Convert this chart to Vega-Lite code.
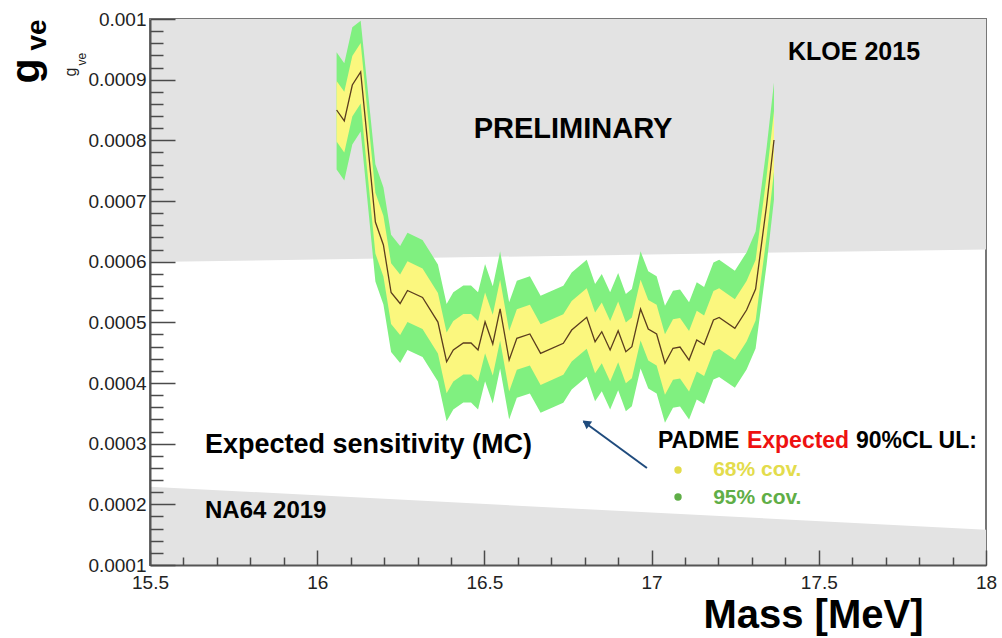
{
  "$schema": "https://vega.github.io/schema/vega-lite/v6.json",
  "width": 836,
  "height": 546,
  "autosize": {"type": "none"},
  "padding": {"left": 150, "top": 19, "right": 16, "bottom": 73},
  "background": "white",
  "view": {"stroke": "#777777", "strokeWidth": 2},
  "config": {
    "font": "Liberation Sans",
    "axis": {
      "zindex": 1,
      "grid": false,
      "labelFont": "Liberation Sans",
      "labelFontSize": 19,
      "labelColor": "#222222",
      "labelFlush": false,
      "labelOverlap": false,
      "tickColor": "#4a4a4a",
      "tickWidth": 1.5,
      "domainColor": "#555555",
      "domainWidth": 2,
      "titleFont": "Liberation Sans",
      "titleColor": "#000000",
      "titleFontWeight": "bold"
    }
  },
  "resolve": {"axis": {"x": "independent", "y": "independent"}},
  "datasets": {
    "kloe": [
      {"m": 15.5, "lo": 0.0005995, "hi": 0.001},
      {"m": 18.0, "lo": 0.00062, "hi": 0.001}
    ],
    "na64": [
      {"m": 15.5, "lo": 0.0001, "hi": 0.000229},
      {"m": 18.0, "lo": 0.0001, "hi": 0.000158}
    ],
    "limit": [
      {"m": 16.058, "c": 0.0008500, "lo68": 0.0007980, "hi68": 0.0008980, "lo95": 0.0007520, "hi95": 0.0009450},
      {"m": 16.081, "c": 0.0008319, "lo68": 0.0007799, "hi68": 0.0008799, "lo95": 0.0007339, "hi95": 0.0009269},
      {"m": 16.105, "c": 0.0008912, "lo68": 0.0008392, "hi68": 0.0009392, "lo95": 0.0007932, "hi95": 0.0009862},
      {"m": 16.130, "c": 0.0009126, "lo68": 0.0008606, "hi68": 0.0009606, "lo95": 0.0008146, "hi95": 0.0009970},
      {"m": 16.174, "c": 0.0006654, "lo68": 0.0006134, "hi68": 0.0007134, "lo95": 0.0005674, "hi95": 0.0007604},
      {"m": 16.198, "c": 0.0006275, "lo68": 0.0005755, "hi68": 0.0006755, "lo95": 0.0005295, "hi95": 0.0007225},
      {"m": 16.221, "c": 0.0005492, "lo68": 0.0004972, "hi68": 0.0005972, "lo95": 0.0004512, "hi95": 0.0006442},
      {"m": 16.248, "c": 0.0005310, "lo68": 0.0004790, "hi68": 0.0005790, "lo95": 0.0004330, "hi95": 0.0006260},
      {"m": 16.270, "c": 0.0005525, "lo68": 0.0005005, "hi68": 0.0006005, "lo95": 0.0004545, "hi95": 0.0006475},
      {"m": 16.315, "c": 0.0005409, "lo68": 0.0004889, "hi68": 0.0005889, "lo95": 0.0004429, "hi95": 0.0006359},
      {"m": 16.361, "c": 0.0005005, "lo68": 0.0004485, "hi68": 0.0005485, "lo95": 0.0004025, "hi95": 0.0005955},
      {"m": 16.387, "c": 0.0004351, "lo68": 0.0003831, "hi68": 0.0004831, "lo95": 0.0003371, "hi95": 0.0005301},
      {"m": 16.407, "c": 0.0004544, "lo68": 0.0004024, "hi68": 0.0005024, "lo95": 0.0003564, "hi95": 0.0005494},
      {"m": 16.437, "c": 0.0004659, "lo68": 0.0004139, "hi68": 0.0005139, "lo95": 0.0003679, "hi95": 0.0005609},
      {"m": 16.460, "c": 0.0004659, "lo68": 0.0004139, "hi68": 0.0005139, "lo95": 0.0003679, "hi95": 0.0005609},
      {"m": 16.481, "c": 0.0004544, "lo68": 0.0004024, "hi68": 0.0005024, "lo95": 0.0003564, "hi95": 0.0005494},
      {"m": 16.502, "c": 0.0005010, "lo68": 0.0004490, "hi68": 0.0005490, "lo95": 0.0004030, "hi95": 0.0005960},
      {"m": 16.525, "c": 0.0004643, "lo68": 0.0004123, "hi68": 0.0005123, "lo95": 0.0003663, "hi95": 0.0005593},
      {"m": 16.547, "c": 0.0005220, "lo68": 0.0004700, "hi68": 0.0005700, "lo95": 0.0004240, "hi95": 0.0006170},
      {"m": 16.574, "c": 0.0004379, "lo68": 0.0003859, "hi68": 0.0004859, "lo95": 0.0003399, "hi95": 0.0005329},
      {"m": 16.597, "c": 0.0004737, "lo68": 0.0004217, "hi68": 0.0005217, "lo95": 0.0003757, "hi95": 0.0005687},
      {"m": 16.636, "c": 0.0004808, "lo68": 0.0004288, "hi68": 0.0005288, "lo95": 0.0003828, "hi95": 0.0005758},
      {"m": 16.668, "c": 0.0004489, "lo68": 0.0003969, "hi68": 0.0004969, "lo95": 0.0003509, "hi95": 0.0005439},
      {"m": 16.736, "c": 0.0004654, "lo68": 0.0004134, "hi68": 0.0005134, "lo95": 0.0003674, "hi95": 0.0005604},
      {"m": 16.761, "c": 0.0004873, "lo68": 0.0004353, "hi68": 0.0005353, "lo95": 0.0003893, "hi95": 0.0005823},
      {"m": 16.806, "c": 0.0005083, "lo68": 0.0004563, "hi68": 0.0005563, "lo95": 0.0004103, "hi95": 0.0006033},
      {"m": 16.831, "c": 0.0004681, "lo68": 0.0004161, "hi68": 0.0005161, "lo95": 0.0003701, "hi95": 0.0005631},
      {"m": 16.851, "c": 0.0004845, "lo68": 0.0004325, "hi68": 0.0005325, "lo95": 0.0003865, "hi95": 0.0005795},
      {"m": 16.876, "c": 0.0004544, "lo68": 0.0004024, "hi68": 0.0005024, "lo95": 0.0003564, "hi95": 0.0005494},
      {"m": 16.900, "c": 0.0004862, "lo68": 0.0004342, "hi68": 0.0005342, "lo95": 0.0003882, "hi95": 0.0005812},
      {"m": 16.923, "c": 0.0004516, "lo68": 0.0003996, "hi68": 0.0004996, "lo95": 0.0003536, "hi95": 0.0005466},
      {"m": 16.941, "c": 0.0004598, "lo68": 0.0004078, "hi68": 0.0005078, "lo95": 0.0003618, "hi95": 0.0005548},
      {"m": 16.967, "c": 0.0005220, "lo68": 0.0004700, "hi68": 0.0005700, "lo95": 0.0004240, "hi95": 0.0006170},
      {"m": 16.990, "c": 0.0004890, "lo68": 0.0004370, "hi68": 0.0005370, "lo95": 0.0003910, "hi95": 0.0005840},
      {"m": 17.015, "c": 0.0004808, "lo68": 0.0004288, "hi68": 0.0005288, "lo95": 0.0003828, "hi95": 0.0005758},
      {"m": 17.040, "c": 0.0004325, "lo68": 0.0003805, "hi68": 0.0004805, "lo95": 0.0003345, "hi95": 0.0005275},
      {"m": 17.064, "c": 0.0004572, "lo68": 0.0004052, "hi68": 0.0005052, "lo95": 0.0003592, "hi95": 0.0005522},
      {"m": 17.085, "c": 0.0004593, "lo68": 0.0004073, "hi68": 0.0005073, "lo95": 0.0003613, "hi95": 0.0005543},
      {"m": 17.112, "c": 0.0004379, "lo68": 0.0003859, "hi68": 0.0004859, "lo95": 0.0003399, "hi95": 0.0005329},
      {"m": 17.135, "c": 0.0004709, "lo68": 0.0004189, "hi68": 0.0005189, "lo95": 0.0003729, "hi95": 0.0005659},
      {"m": 17.157, "c": 0.0004634, "lo68": 0.0004114, "hi68": 0.0005114, "lo95": 0.0003654, "hi95": 0.0005584},
      {"m": 17.185, "c": 0.0005038, "lo68": 0.0004518, "hi68": 0.0005518, "lo95": 0.0004058, "hi95": 0.0005988},
      {"m": 17.202, "c": 0.0005080, "lo68": 0.0004560, "hi68": 0.0005560, "lo95": 0.0004100, "hi95": 0.0006030},
      {"m": 17.249, "c": 0.0004902, "lo68": 0.0004382, "hi68": 0.0005382, "lo95": 0.0003922, "hi95": 0.0005852},
      {"m": 17.284, "c": 0.0005203, "lo68": 0.0004683, "hi68": 0.0005683, "lo95": 0.0004223, "hi95": 0.0006153},
      {"m": 17.311, "c": 0.0005549, "lo68": 0.0005029, "hi68": 0.0006029, "lo95": 0.0004569, "hi95": 0.0006499},
      {"m": 17.344, "c": 0.0006934, "lo68": 0.0006414, "hi68": 0.0007414, "lo95": 0.0005954, "hi95": 0.0007884},
      {"m": 17.366, "c": 0.0008005, "lo68": 0.0007485, "hi68": 0.0008485, "lo95": 0.0007025, "hi95": 0.0008955}
    ]
  },
  "layer": [
    {
      "data": {"name": "kloe"},
      "mark": {"type": "area", "color": "#e3e3e3"},
      "encoding": {
        "x": {
          "field": "m", "type": "quantitative",
          "scale": {"domain": [15.5, 18], "nice": false, "zero": false},
          "axis": {
            "orient": "bottom",
            "zindex": 2,
            "values": [15.5, 16, 16.5, 17, 17.5, 18],
            "format": "~g",
            "ticks": false,
            "domain": true,
            "labelPadding": 8,
            "title": "Mass [MeV]",
            "titleFontSize": 40,
            "titleX": 773,
            "titleY": 62,
            "titleAlign": "right",
            "titleBaseline": "alphabetic",
            "titleAngle": 0
          }
        },
        "y": {
          "field": "lo", "type": "quantitative",
          "scale": {"domain": [0.0001, 0.001], "nice": false, "zero": false},
          "axis": {
            "orient": "left",
            "zindex": 2,
            "values": [0.0001, 0.0002, 0.0003, 0.0004, 0.0005, 0.0006, 0.0007, 0.0008, 0.0009, 0.001],
            "format": "~g",
            "ticks": false,
            "domain": true,
            "labelPadding": 4,
            "title": "g",
            "titleFontSize": 41,
            "titleX": -112,
            "titleY": 64,
            "titleAngle": 270,
            "titleAlign": "left",
            "titleBaseline": "alphabetic"
          }
        },
        "y2": {"field": "hi"}
      }
    },
    {
      "data": {"name": "na64"},
      "mark": {"type": "area", "color": "#e3e3e3"},
      "encoding": {
        "x": {
          "field": "m", "type": "quantitative",
          "scale": {"domain": [15.5, 18], "nice": false, "zero": false},
          "axis": {
            "orient": "bottom",
            "zindex": 2,
            "values": [15.5, 16, 16.5, 17, 17.5, 18],
            "labels": false, "domain": false, "ticks": true,
            "tickSize": -15,
            "title": null
          }
        },
        "y": {
          "field": "lo", "type": "quantitative",
          "scale": {"domain": [0.0001, 0.001], "nice": false, "zero": false},
          "axis": {
            "orient": "left",
            "zindex": 2,
            "values": [0.0001, 0.0002, 0.0003, 0.0004, 0.0005, 0.0006, 0.0007, 0.0008, 0.0009, 0.001],
            "labels": false, "domain": false, "ticks": true,
            "tickSize": -25,
            "title": "ve",
            "titleFontSize": 28,
            "titleX": -105,
            "titleY": 31,
            "titleAngle": 270,
            "titleAlign": "left",
            "titleBaseline": "alphabetic"
          }
        },
        "y2": {"field": "hi"}
      }
    },
    {
      "data": {"name": "limit"},
      "mark": {"type": "area", "color": "#80f080"},
      "encoding": {
        "x": {
          "field": "m", "type": "quantitative",
          "scale": {"domain": [15.5, 18], "nice": false, "zero": false},
          "axis": {
            "orient": "bottom",
            "zindex": 2,
            "values": [15.6, 15.7, 15.8, 15.9, 16.1, 16.2, 16.3, 16.4, 16.6, 16.7, 16.8, 16.9, 17.1, 17.2, 17.3, 17.4, 17.6, 17.7, 17.8, 17.9],
            "labels": false, "domain": false, "ticks": true,
            "tickSize": -8,
            "title": null
          }
        },
        "y": {
          "field": "lo95", "type": "quantitative",
          "scale": {"domain": [0.0001, 0.001], "nice": false, "zero": false},
          "axis": {
            "orient": "left",
            "zindex": 2,
            "values": [0.00012, 0.00014, 0.00016, 0.00018, 0.00022, 0.00024, 0.00026, 0.00028, 0.00032, 0.00034, 0.00036, 0.00038, 0.00042, 0.00044, 0.00046, 0.00048, 0.00052, 0.00054, 0.00056, 0.00058, 0.00062, 0.00064, 0.00066, 0.00068, 0.00072, 0.00074, 0.00076, 0.00078, 0.00082, 0.00084, 0.00086, 0.00088, 0.00092, 0.00094, 0.00096, 0.00098],
            "labels": false, "domain": false, "ticks": true,
            "tickSize": -13,
            "title": "g",
            "titleFontSize": 16,
            "titleFontWeight": "normal",
            "titleColor": "#222222",
            "titleX": -74.7,
            "titleY": 57,
            "titleAngle": 270,
            "titleAlign": "left",
            "titleBaseline": "alphabetic"
          }
        },
        "y2": {"field": "hi95"}
      }
    },
    {
      "data": {"name": "limit"},
      "mark": {"type": "area", "color": "#fbf77e"},
      "encoding": {
        "x": {
          "field": "m", "type": "quantitative",
          "scale": {"domain": [15.5, 18], "nice": false, "zero": false},
          "axis": null
        },
        "y": {
          "field": "lo68", "type": "quantitative",
          "scale": {"domain": [0.0001, 0.001], "nice": false, "zero": false},
          "axis": {
            "orient": "left",
            "zindex": 2,
            "labels": false, "domain": false, "ticks": false,
            "title": "ve",
            "titleFontSize": 12,
            "titleFontWeight": "normal",
            "titleColor": "#222222",
            "titleX": -65,
            "titleY": 46,
            "titleAngle": 270,
            "titleAlign": "left",
            "titleBaseline": "alphabetic"
          }
        },
        "y2": {"field": "hi68"}
      }
    },
    {
      "data": {"name": "limit"},
      "mark": {"type": "line", "color": "#5b3d1e", "strokeWidth": 1.3},
      "encoding": {
        "x": {"field": "m", "type": "quantitative", "scale": {"domain": [15.5, 18], "nice": false, "zero": false}, "axis": null},
        "y": {"field": "c", "type": "quantitative", "scale": {"domain": [0.0001, 0.001], "nice": false, "zero": false}, "axis": null}
      }
    },
    {
      "data": {"values": [{"m": 16.765, "v": 0.0008038, "label": "PRELIMINARY"}]},
      "mark": {"type": "text", "font": "Liberation Sans", "fontWeight": "bold", "fontSize": 29, "align": "center", "baseline": "alphabetic", "color": "#000000"},
      "encoding": {
        "x": {"field": "m", "type": "quantitative", "scale": {"domain": [15.5, 18], "nice": false, "zero": false}, "axis": null},
        "y": {"field": "v", "type": "quantitative", "scale": {"domain": [0.0001, 0.001], "nice": false, "zero": false}, "axis": null},
        "text": {"field": "label"}
      }
    },
    {
      "data": {"values": [{"m": 17.408, "v": 0.0009324, "label": "KLOE 2015"}]},
      "mark": {"type": "text", "font": "Liberation Sans", "fontWeight": "bold", "fontSize": 25, "align": "left", "baseline": "alphabetic", "color": "#000000"},
      "encoding": {
        "x": {"field": "m", "type": "quantitative", "scale": {"domain": [15.5, 18], "nice": false, "zero": false}, "axis": null},
        "y": {"field": "v", "type": "quantitative", "scale": {"domain": [0.0001, 0.001], "nice": false, "zero": false}, "axis": null},
        "text": {"field": "label"}
      }
    },
    {
      "data": {"values": [{"m": 15.6645, "v": 0.0002841, "label": "Expected sensitivity (MC)"}]},
      "mark": {"type": "text", "font": "Liberation Sans", "fontWeight": "bold", "fontSize": 27, "align": "left", "baseline": "alphabetic", "color": "#000000"},
      "encoding": {
        "x": {"field": "m", "type": "quantitative", "scale": {"domain": [15.5, 18], "nice": false, "zero": false}, "axis": null},
        "y": {"field": "v", "type": "quantitative", "scale": {"domain": [0.0001, 0.001], "nice": false, "zero": false}, "axis": null},
        "text": {"field": "label"}
      }
    },
    {
      "data": {"values": [{"m": 15.6645, "v": 0.000177, "label": "NA64 2019"}]},
      "mark": {"type": "text", "font": "Liberation Sans", "fontWeight": "bold", "fontSize": 24, "align": "left", "baseline": "alphabetic", "color": "#000000"},
      "encoding": {
        "x": {"field": "m", "type": "quantitative", "scale": {"domain": [15.5, 18], "nice": false, "zero": false}, "axis": null},
        "y": {"field": "v", "type": "quantitative", "scale": {"domain": [0.0001, 0.001], "nice": false, "zero": false}, "axis": null},
        "text": {"field": "label"}
      }
    },
    {
      "data": {"values": [
        {"m": 17.019, "v": 0.0002923, "label": "PADME"},
        {"m": 17.611, "v": 0.0002923, "label": "90%CL UL:"}
      ]},
      "mark": {"type": "text", "font": "Liberation Sans", "fontWeight": "bold", "fontSize": 23, "align": "left", "baseline": "alphabetic", "color": "#000000"},
      "encoding": {
        "x": {"field": "m", "type": "quantitative", "scale": {"domain": [15.5, 18], "nice": false, "zero": false}, "axis": null},
        "y": {"field": "v", "type": "quantitative", "scale": {"domain": [0.0001, 0.001], "nice": false, "zero": false}, "axis": null},
        "text": {"field": "label"}
      }
    },
    {
      "data": {"values": [{"m": 17.285, "v": 0.0002923, "label": "Expected"}]},
      "mark": {"type": "text", "font": "Liberation Sans", "fontWeight": "bold", "fontSize": 23, "align": "left", "baseline": "alphabetic", "color": "#ee1111"},
      "encoding": {
        "x": {"field": "m", "type": "quantitative", "scale": {"domain": [15.5, 18], "nice": false, "zero": false}, "axis": null},
        "y": {"field": "v", "type": "quantitative", "scale": {"domain": [0.0001, 0.001], "nice": false, "zero": false}, "axis": null},
        "text": {"field": "label"}
      }
    },
    {
      "data": {"values": [
        {"m": 17.079, "v": 0.0002566, "cov": "68% cov."},
        {"m": 17.079, "v": 0.0002121, "cov": "95% cov."}
      ]},
      "mark": {"type": "point", "shape": "circle", "filled": true, "size": 55, "opacity": 1},
      "encoding": {
        "x": {"field": "m", "type": "quantitative", "scale": {"domain": [15.5, 18], "nice": false, "zero": false}, "axis": null},
        "y": {"field": "v", "type": "quantitative", "scale": {"domain": [0.0001, 0.001], "nice": false, "zero": false}, "axis": null},
        "color": {"field": "cov", "type": "nominal", "scale": {"domain": ["68% cov.", "95% cov."], "range": ["#e3dc4c", "#5fae47"]}, "legend": null}
      }
    },
    {
      "data": {"values": [
        {"m": 17.184, "v": 0.0002467, "cov": "68% cov."},
        {"m": 17.184, "v": 0.0002005, "cov": "95% cov."}
      ]},
      "mark": {"type": "text", "font": "Liberation Sans", "fontWeight": "bold", "fontSize": 21, "align": "left", "baseline": "alphabetic"},
      "encoding": {
        "x": {"field": "m", "type": "quantitative", "scale": {"domain": [15.5, 18], "nice": false, "zero": false}, "axis": null},
        "y": {"field": "v", "type": "quantitative", "scale": {"domain": [0.0001, 0.001], "nice": false, "zero": false}, "axis": null},
        "text": {"field": "cov"},
        "color": {"field": "cov", "type": "nominal", "scale": {"domain": ["68% cov.", "95% cov."], "range": ["#e3dc4c", "#5fae47"]}, "legend": null}
      }
    },
    {
      "data": {"values": [{"m": 16.986, "v": 0.0002599, "m2": 16.796, "v2": 0.0003365}]},
      "mark": {"type": "rule", "color": "#1f4b7d", "strokeWidth": 2},
      "encoding": {
        "x": {"field": "m", "type": "quantitative", "scale": {"domain": [15.5, 18], "nice": false, "zero": false}, "axis": null},
        "y": {"field": "v", "type": "quantitative", "scale": {"domain": [0.0001, 0.001], "nice": false, "zero": false}, "axis": null},
        "x2": {"field": "m2"},
        "y2": {"field": "v2"}
      }
    },
    {
      "data": {"values": [{"m": 16.804, "v": 0.0003341}]},
      "mark": {"type": "point", "shape": "triangle-up", "angle": 306.6, "filled": true, "size": 90, "color": "#1f4b7d", "opacity": 1},
      "encoding": {
        "x": {"field": "m", "type": "quantitative", "scale": {"domain": [15.5, 18], "nice": false, "zero": false}, "axis": null},
        "y": {"field": "v", "type": "quantitative", "scale": {"domain": [0.0001, 0.001], "nice": false, "zero": false}, "axis": null}
      }
    }
  ]
}
